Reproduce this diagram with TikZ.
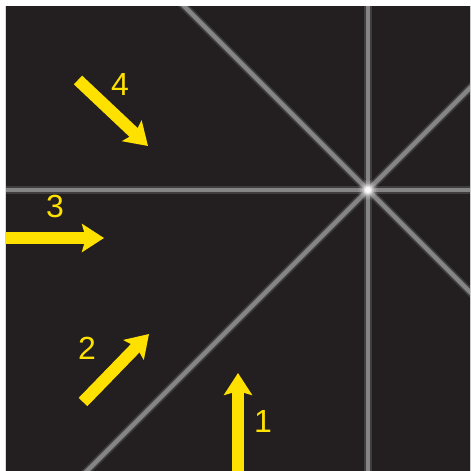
\documentclass[tikz,border=0pt]{standalone}
\usepackage{fontspec}
\setmainfont{Liberation Sans}
\usetikzlibrary{arrows.meta}
\definecolor{bg}{HTML}{231F20}
\definecolor{ray}{HTML}{858585}
\definecolor{arr}{HTML}{FFE100}
\tikzset{
  rayline/.style={draw=ray, line width=4.5pt},
  rayglow/.style={draw=ray, line width=8pt, opacity=0.3},
  yarrow/.style={draw=arr, line width=12pt, -{Stealth[length=22pt, width=28pt, inset=4pt]}},
  num/.style={text=arr, font=\fontsize{32}{32}\selectfont, inner sep=0pt}
}
\begin{document}
\begin{tikzpicture}[x=1pt, y=-1pt]
\useasboundingbox (0,0) rectangle (471,471);
\fill[white] (0,0) rectangle (471,471);
\fill[bg] (5,6) rectangle (471,471);
\begin{scope}
\clip (5,6) rectangle (470,471);
\coordinate (c) at (368,190);
\coordinate (top) at (368,0);
\coordinate (bot) at (368,480);
\coordinate (lft) at (0,190);
\coordinate (rgt) at (480,190);
\coordinate (nw) at (178,0);
\coordinate (se) at (480,302);
\coordinate (ne) at (480,78);
\coordinate (sw) at (78,480);
\foreach \a/\b in {top/bot, lft/rgt, nw/se, ne/sw} {
  \draw[rayglow] (\a) -- (\b);
  \draw[rayline] (\a) -- (\b);
}
\foreach \r/\o in {10/0.08, 8/0.15, 6/0.3, 4.5/0.55, 3/0.9} {
  \fill[white, opacity=\o] (c) circle (\r);
}
\end{scope}
\draw[gray!40, line width=0.8pt] (470,6) -- (470,471);
\draw[gray!30, line width=0.8pt] (5,6) -- (5,471);
% arrows
\coordinate (t1) at (238,471);
\coordinate (h1) at (238,373);
\coordinate (t2) at (83,402);
\coordinate (h2) at (149,334);
\coordinate (t3) at (5,238);
\coordinate (h3) at (104,238);
\coordinate (t4) at (78,80);
\coordinate (h4) at (148,146);
\draw[yarrow] (t1) -- (h1);
\draw[yarrow] (t2) -- (h2);
\draw[yarrow] (t3) -- (h3);
\draw[yarrow] (t4) -- (h4);
\node[num] (n1) at (263,421) {1};
\node[num] (n2) at (87,348) {2};
\node[num] (n3) at (55,206) {3};
\node[num] (n4) at (120,84) {4};
\end{tikzpicture}
\end{document}
